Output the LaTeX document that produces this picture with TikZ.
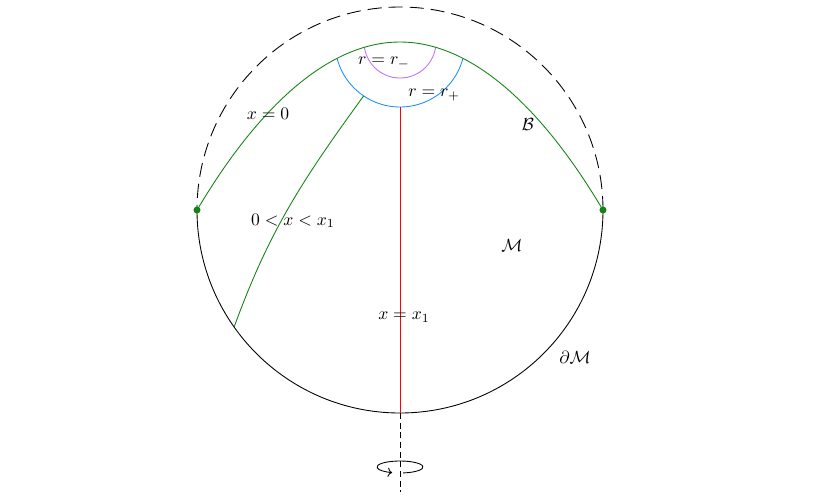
\documentclass[tikz,border=0pt]{standalone}
\usetikzlibrary{arrows.meta}

\definecolor{horizonblue}{RGB}{30,144,255}
\definecolor{innerviolet}{RGB}{190,115,255}
\definecolor{bulkgreen}{RGB}{20,130,20}

\begin{document}
\begin{tikzpicture}[
    boundary/.style={black, line width=0.5pt},
    cutoff/.style={black, line width=0.5pt, dash pattern=on 8pt off 4pt},
    axisline/.style={black, line width=0.5pt, dash pattern=on 3.5pt off 2pt},
    slice/.style={bulkgreen, line width=0.5pt},
    lbl/.style={inner sep=1pt}
]
    \useasboundingbox (-8,-5.78) rectangle (8.62,4.2);

    \coordinate (o) at (0,0);
    \coordinate (l) at (-4.06,0);
    \coordinate (r) at (4.06,0);
    \coordinate (t) at (0,3.36);
    \coordinate (h) at (0,2.06);
    \coordinate (s) at (-0.727,2.282);
    \coordinate (e) at (215.2:4.06);
    \coordinate (p) at (0,-4.06);
    \coordinate (q) at (0,-5.64);
    \coordinate (w) at (0,-5.14);

    \draw[boundary] (l) arc[start angle=180, end angle=360, radius=4.06];
    \draw[cutoff] (r) arc[start angle=0, end angle=180, radius=4.06];

    \begin{scope}
        \clip (l) parabola bend (t) (r) -- cycle;
        \draw[horizonblue, line width=0.5pt] (t) circle (1.3);
        \draw[innerviolet, line width=0.5pt] (t) circle (0.72);
    \end{scope}
    \draw[slice] (l) parabola bend (t) (r);
    \draw[slice] (s) to[out=234, in=70] (e);
    \draw[red, line width=0.5pt] (h) -- (p);
    \draw[axisline] (p) -- (q);
    \draw[-{To[length=2.5pt]}, line width=0.5pt] (w) ++(-82:0.46 and 0.12)
        arc[start angle=-82, end angle=250, x radius=0.46, y radius=0.12];

    \foreach \pt in {l,r} \fill[bulkgreen] (\pt) circle (2pt);

    \node[lbl] (xzero) at (-2.64,1.92) {$x=0$};
    \node[lbl] (xmid) at (-2.14,-0.22) {$0<x<x_1$};
    \node[lbl] (rminus) at (-0.32,2.94) {$r=r_-$};
    \node[lbl] (rplus) at (0.68,2.30) {$r=r_+$};
    \node[lbl] (bnd) at (2.56,1.72) {$\mathcal{B}$};
    \node[lbl] (bulk) at (2.24,-0.70) {$\mathcal{M}$};
    \node[lbl] (xone) at (0.08,-2.14) {$x=x_1$};
    \node[lbl] (dbulk) at (3.5,-2.94) {$\partial\mathcal{M}$};
\end{tikzpicture}
\end{document}
